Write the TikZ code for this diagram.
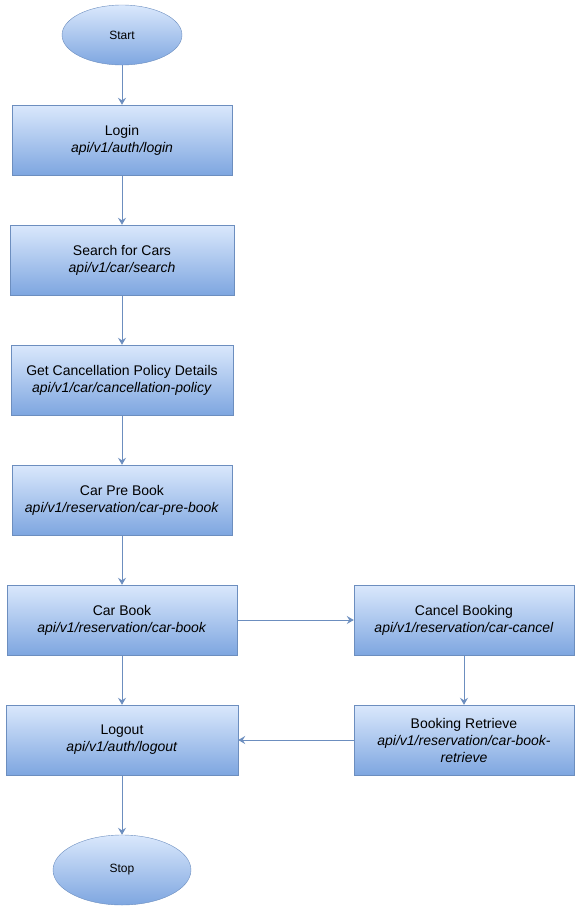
\documentclass[tikz,border=0pt]{standalone}
\usepackage{fontspec}
\setmainfont{Liberation Sans}
\usetikzlibrary{arrows.meta}
\usetikzlibrary{shapes.geometric}
\definecolor{boxfill}{HTML}{DAE8FC}
\definecolor{boxshade}{HTML}{7EA6E0}
\definecolor{boxline}{HTML}{6C8EBF}
\tikzset{
  stepbox/.style={rectangle, draw=boxline, top color=boxfill, bottom color=boxshade,
    minimum height=70pt, inner sep=0pt, align=center,
    font=\fontsize{14}{17}\selectfont},
  terminal/.style={ellipse, draw=boxline, top color=boxfill, bottom color=boxshade,
    inner sep=0pt, font=\fontsize{12}{14}\selectfont},
  flow/.style={draw=boxline, line width=1pt,
    -{Stealth[length=7pt,width=8pt,inset=2.5pt]}}
}

\begin{document}
\begin{tikzpicture}[x=1pt,y=-1pt]
        \useasboundingbox (0,0) rectangle (580,911);

        % main column
        \node[terminal,minimum width=120pt,minimum height=60pt] (start) at (122,35) {Start};
        \node[stepbox,minimum width=220pt] (login) at (122,140) {Login\\\textit{api/v1/auth/login}};
        \node[stepbox,minimum width=224pt] (search) at (122,260) {Search for Cars\\\textit{api/v1/car/search}};
        \node[stepbox,minimum width=222pt] (policy) at (122,380) {Get Cancellation Policy Details\\\textit{api/v1/car/cancellation-policy}};
        \node[stepbox,minimum width=220pt] (prebook) at (122,500) {Car Pre Book\\\textit{api/v1/reservation/car-pre-book}};
        \node[stepbox,minimum width=230pt] (book) at (122,620) {Car Book\\\textit{api/v1/reservation/car-book}};
        \node[stepbox,minimum width=232pt] (logout) at (122,740) {Logout\\\textit{api/v1/auth/logout}};
        \node[terminal,minimum width=138pt,minimum height=70pt] (stop) at (122,870) {Stop};

        % cancel branch
        \node[stepbox,minimum width=220pt] (cancel) at (464,620) {Cancel Booking\\\textit{api/v1/reservation/car-cancel}};
        \node[stepbox,minimum width=220pt] (retrieve) at (464,740) {Booking Retrieve\\\textit{api/v1/reservation/car-book-}\\\textit{retrieve}};

        \draw[flow] (start) -- (login);
        \draw[flow] (login) -- (search);
        \draw[flow] (search) -- (policy);
        \draw[flow] (policy) -- (prebook);
        \draw[flow] (prebook) -- (book);
        \draw[flow] (book) -- (logout);
        \draw[flow] (logout) -- (stop);
        \draw[flow] (book) -- (cancel);
        \draw[flow] (cancel) -- (retrieve);
        \draw[flow] (retrieve) -- (logout);
      \end{tikzpicture}
\end{document}
